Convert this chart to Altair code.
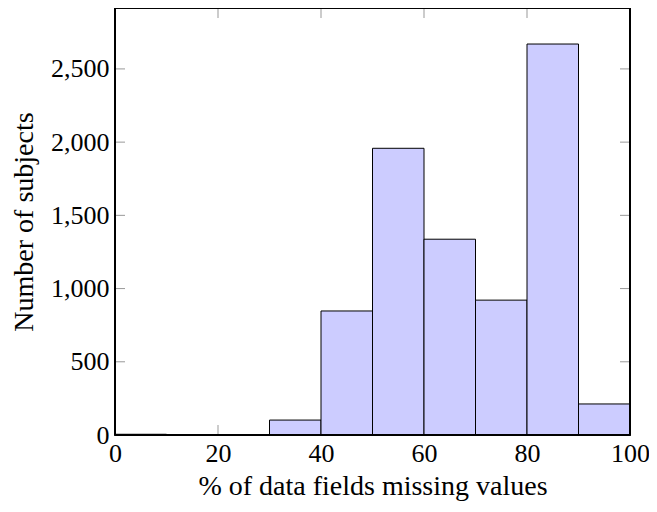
import altair as alt
import pandas as pd

bin_start = [0, 10, 20, 30, 40, 50, 60, 70, 80, 90]
bin_end = [10, 20, 30, 40, 50, 60, 70, 80, 90, 100]
counts = [5, 0, 0, 102, 847, 1958, 1337, 921, 2670, 212]

x_ticks = [0, 20, 40, 60, 80, 100]
y_ticks = [0, 500, 1000, 1500, 2000, 2500]

W, H = 515, 427
FONT = "Liberation Serif"
LFS = 26
TFS = 28

df = pd.DataFrame({"start": bin_start, "end": bin_end, "count": counts})
xt = pd.DataFrame({"v": x_ticks})
yt = pd.DataFrame({"v": y_ticks})

xscale = alt.Scale(domain=[0, 100], nice=False, zero=False)
yscale = alt.Scale(domain=[0, 2916], nice=False)

bars = alt.Chart(df).mark_rect(fill="#ccccff", stroke="black", strokeWidth=1).encode(
    x=alt.X("start:Q", scale=xscale,
            axis=alt.Axis(values=x_ticks, title="% of data fields missing values", domain=False,
                          ticks=False, grid=False, labelFont=FONT, labelFontSize=LFS,
                          labelFlush=False, labelOverlap=False,
                          labelColor="black", labelPadding=5, titleFont=FONT, titleFontSize=TFS,
                          titleFontWeight="normal", titleColor="black", titlePadding=6)),
    x2="end:Q",
    y=alt.Y("count:Q", scale=yscale,
            axis=alt.Axis(values=y_ticks, format=",d", title="Number of subjects", domain=False,
                          ticks=False, grid=False, labelFont=FONT, labelFontSize=LFS,
                          labelFlush=False, labelOverlap=False,
                          labelColor="black", labelPadding=6, titleFont=FONT, titleFontSize=TFS,
                          titleFontWeight="normal", titleColor="black", titlePadding=12)),
    y2=alt.datum(0),
)

TICK = "#999999"
ytl = alt.Chart(yt).mark_rule(color=TICK, strokeWidth=1).encode(
    y=alt.Y("v:Q", scale=yscale), x=alt.value(0), x2=alt.value(10))
ytr = alt.Chart(yt).mark_rule(color=TICK, strokeWidth=1).encode(
    y=alt.Y("v:Q", scale=yscale), x=alt.value(W - 10), x2=alt.value(W))
xtb = alt.Chart(xt).mark_rule(color=TICK, strokeWidth=1).encode(
    x=alt.X("v:Q", scale=xscale), y=alt.value(H - 10), y2=alt.value(H))
xtt = alt.Chart(xt).mark_rule(color=TICK, strokeWidth=1).encode(
    x=alt.X("v:Q", scale=xscale), y=alt.value(0), y2=alt.value(10))

frame = alt.Chart(xt).mark_rect(fill=None, stroke="black", strokeWidth=1.2).encode(
    x=alt.value(0), x2=alt.value(W), y=alt.value(0), y2=alt.value(H))

chart = alt.layer(ytl, ytr, xtb, xtt, bars, frame).properties(
    width=W, height=H,
    autosize=alt.AutoSizeParams(type="none"),
    padding={"left": 107, "top": 0, "right": 19, "bottom": 69},
).configure_view(strokeWidth=0).configure(background="white")

chart.save("out.html", embed_options={"renderer": "svg", "actions": False})
